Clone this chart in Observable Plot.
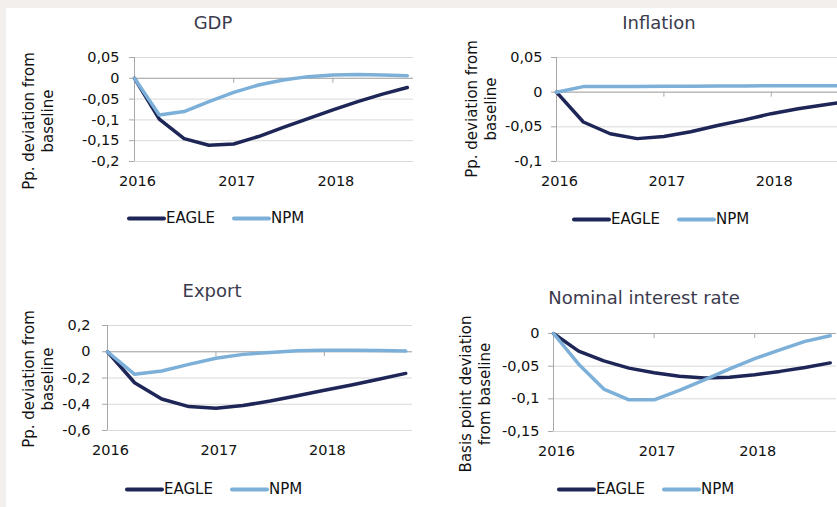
<!DOCTYPE html>
<html><head><meta charset="utf-8">
<script src="https://cdn.jsdelivr.net/npm/d3@7"></script>
<script src="https://cdn.jsdelivr.net/npm/@observablehq/plot@0.6"></script>
<style>
html,body{margin:0;padding:0;background:#f2efec;overflow:hidden;}
#page{position:relative;width:837px;height:507px;overflow:hidden;background:#f2efec;font-family:"DejaVu Sans",sans-serif;}
#panel{position:absolute;left:6px;top:8px;right:0;bottom:0;background:#fff;}
.abs{position:absolute;}
.title{font-size:18px;color:#3b3b4d;transform:translate(-50%,-50%);white-space:nowrap;line-height:1;}
.ylab{font-size:15px;color:#111;transform:translate(-50%,-50%) rotate(-90deg);white-space:pre;text-align:center;line-height:19px;}
.legend{display:flex;align-items:center;font-size:15px;color:#111;transform:translateY(-50%);line-height:1;white-space:nowrap;}
.sw{width:39px;height:4px;border-radius:2px;}
.item{display:flex;align-items:center;margin-right:17px;}
</style></head>
<body><div id="page"><div id="panel"></div></div>
<script>
// ---- data ----
const quarters = ["2016Q1","2016Q2","2016Q3","2016Q4","2017Q1","2017Q2","2017Q3","2017Q4","2018Q1","2018Q2","2018Q3","2018Q4"];
const yearTickIndex = [0, 4, 8];
const yearLabels = ["2016", "2017", "2018"];
const series = ["EAGLE", "NPM"];
const seriesColors = ["#1d2657", "#7db0d8"];

const gdpEagle = [0, -0.098, -0.145, -0.161, -0.158, -0.14, -0.118, -0.097, -0.076, -0.056, -0.038, -0.022];
const gdpNpm   = [0, -0.088, -0.08, -0.056, -0.034, -0.016, -0.004, 0.004, 0.008, 0.009, 0.008, 0.006];
const gdpTicks = [0.05, 0, -0.05, -0.1, -0.15, -0.2];

const inflEagle = [0, -0.043, -0.060, -0.067, -0.064, -0.057, -0.048, -0.040, -0.031, -0.024, -0.018, -0.013];
const inflNpm   = [0, 0.008, 0.008, 0.0083, 0.0085, 0.0087, 0.0089, 0.009, 0.0092, 0.0093, 0.0093, 0.0093];
const inflTicks = [0.05, 0, -0.05, -0.1];

const exportEagle = [0, -0.236, -0.36, -0.418, -0.43, -0.41, -0.375, -0.335, -0.294, -0.253, -0.21, -0.165];
const exportNpm   = [0, -0.172, -0.147, -0.096, -0.05, -0.02, -0.005, 0.008, 0.012, 0.012, 0.01, 0.005];
const exportTicks = [0.2, 0, -0.2, -0.4, -0.6];

const rateEagle = [0, -0.027, -0.042, -0.053, -0.060, -0.0655, -0.068, -0.067, -0.063, -0.058, -0.052, -0.045];
const rateNpm   = [0, -0.047, -0.085, -0.1015, -0.1015, -0.087, -0.071, -0.054, -0.0385, -0.025, -0.012, -0.0035];
const rateTicks = [0, -0.05, -0.1, -0.15];

const titles = ["GDP", "Inflation", "Export", "Nominal interest rate"];
const yLabels = ["Pp. deviation from\nbaseline", "Pp. deviation from\nbaseline", "Pp. deviation from\nbaseline", "Basis point deviation\nfrom baseline"];

// ---- drawing ----
const page = document.getElementById("page");
const fmt = d => d === 0 ? "0" : String(d).replace(".", ",");

function panel(o) {
  const data = quarters.flatMap((q, i) => [
    {i, v: o.eagle[i], s: series[0]},
    {i, v: o.npm[i], s: series[1]}
  ]);
  const svg = Plot.plot({
    width: o.width, height: o.height,
    marginLeft: o.mL, marginRight: o.mR, marginTop: o.mT, marginBottom: o.mB,
    x: {domain: [0, 11.25], label: null},
    y: {domain: o.yDomain, label: null},
    color: {domain: series, range: seriesColors},
    style: {fontFamily: "DejaVu Sans", fontSize: "14.5px", background: "transparent", overflow: "visible", color: "#111"},
    marks: [
      Plot.ruleY(o.ticks, {stroke: "#d9d9d9", strokeWidth: 1}),
      Plot.ruleY([0], {stroke: "#a8a8a8", strokeWidth: 1}),
      Plot.ruleX([0], {stroke: "#a8a8a8", strokeWidth: 1}),
      Plot.ruleX(yearTickIndex, {y1: 0, y2: 0, insetBottom: -5, stroke: "#a8a8a8", strokeWidth: 1}),
      Plot.axisY({ticks: o.ticks, label: null, tickSize: 5, tickPadding: o.padY, tickFormat: fmt, fontSize: 14.5, stroke: "#a8a8a8", fill: "#111"}),
      Plot.axisX({ticks: yearTickIndex, label: null, tickSize: 0, tickPadding: 14, dx: 3, fontSize: 14.5, fill: "#111",
                  tickFormat: i => yearLabels[yearTickIndex.indexOf(i)]}),
      Plot.line(data, {x: "i", y: "v", z: "s", stroke: "s", strokeWidth: 3.5, strokeLinejoin: "round", strokeLinecap: "round"})
    ]
  });
  svg.style.position = "absolute";
  svg.style.left = o.left + "px";
  svg.style.top = o.top + "px";
  page.appendChild(svg);

  const t = document.createElement("div");
  t.className = "abs title"; t.textContent = o.title;
  t.style.left = o.titleX + "px"; t.style.top = o.titleY + "px";
  page.appendChild(t);

  const yl = document.createElement("div");
  yl.className = "abs ylab"; yl.textContent = o.ylabel;
  yl.style.left = o.ylX + "px"; yl.style.top = o.ylY + "px";
  page.appendChild(yl);

  const lg = document.createElement("div");
  lg.className = "abs legend";
  lg.style.left = o.lgX + "px"; lg.style.top = o.lgY + "px";
  series.forEach((s, k) => {
    const it = document.createElement("div"); it.className = "item";
    const sw = document.createElement("div"); sw.className = "sw"; sw.style.background = seriesColors[k];
    const tx = document.createElement("span"); tx.textContent = s;
    it.appendChild(sw); it.appendChild(tx); lg.appendChild(it);
  });
  page.appendChild(lg);
}

panel({left: 0, top: 0, width: 420, height: 200, mL: 134, mR: 7, mT: 57, mB: 39, padY: 10,
  yDomain: [-0.2, 0.05], ticks: gdpTicks, eagle: gdpEagle, npm: gdpNpm,
  title: titles[0], titleX: 213, titleY: 23, ylabel: yLabels[0], ylX: 39, ylY: 121, lgX: 127, lgY: 218});

panel({left: 420, top: 0, width: 450, height: 200, mL: 136, mR: 12, mT: 57, mB: 39, padY: 9,
  yDomain: [-0.1, 0.05], ticks: inflTicks, eagle: inflEagle, npm: inflNpm,
  title: titles[1], titleX: 659, titleY: 23, ylabel: yLabels[1], ylX: 482, ylY: 109, lgX: 572, lgY: 219});

panel({left: 0, top: 270, width: 420, height: 200, mL: 107, mR: 8, mT: 55, mB: 40, padY: 12,
  yDomain: [-0.6, 0.2], ticks: exportTicks, eagle: exportEagle, npm: exportNpm,
  title: titles[2], titleX: 212, titleY: 291, ylabel: yLabels[2], ylX: 39, ylY: 379, lgX: 125, lgY: 489});

panel({left: 420, top: 270, width: 430, height: 200, mL: 133, mR: 14, mT: 63, mB: 39, padY: 9,
  yDomain: [-0.15, 0], ticks: rateTicks, eagle: rateEagle, npm: rateNpm,
  title: titles[3], titleX: 644, titleY: 298, ylabel: yLabels[3], ylX: 476, ylY: 394, lgX: 557, lgY: 489});
</script>
</body></html>
